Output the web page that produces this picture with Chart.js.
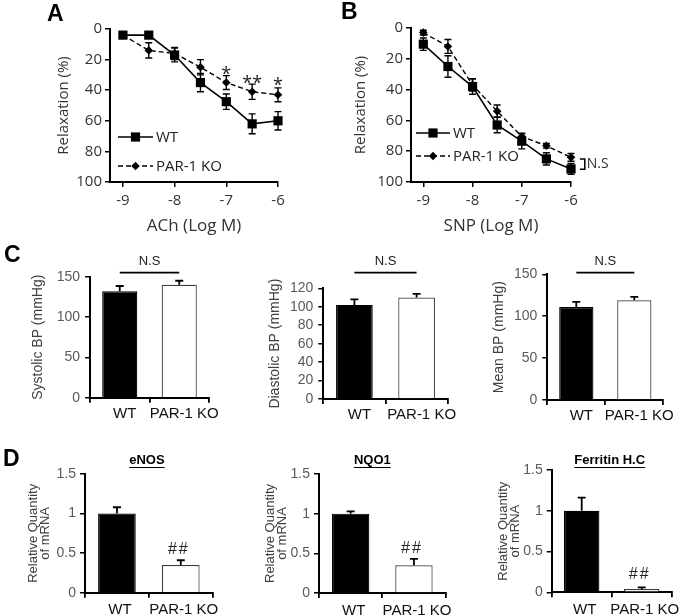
<!DOCTYPE html>
<html>
<head>
<meta charset="utf-8">
<script src="https://cdn.jsdelivr.net/npm/chart.js@4"></script>
<style>
  html, body { margin: 0; padding: 0; background: #fff; }
  #wrap { position: relative; width: 685px; height: 616px; overflow: hidden; }
  #wrap canvas { position: absolute; left: 0; top: 0; }
  .tag { position: absolute; font: bold 23px Arial, "Liberation Sans", sans-serif; line-height: 23px; color: #000; }
</style>
</head>
<body>
<div id="wrap">
  <canvas id="cA" width="685" height="616"></canvas>
  <canvas id="cB" width="685" height="616"></canvas>
  <canvas id="cSys" width="685" height="616"></canvas>
  <canvas id="cDia" width="685" height="616"></canvas>
  <canvas id="cMean" width="685" height="616"></canvas>
  <canvas id="cEnos" width="685" height="616"></canvas>
  <canvas id="cNqo" width="685" height="616"></canvas>
  <canvas id="cFer" width="685" height="616"></canvas>
  <div class="tag" style="left:47px;top:2px">A</div>
  <div class="tag" style="left:341px;top:0px">B</div>
  <div class="tag" style="left:4px;top:243px">C</div>
  <div class="tag" style="left:3px;top:447px">D</div>
</div>
<script>
// ---- data ----
const doses = [-9, -8.5, -8, -7.5, -7, -6.5, -6];
const doseTicks = [-9, -8, -7, -6];
const relaxTicks = [0, 20, 40, 60, 80, 100];

const achWT = [4, 4, 17, 35, 47.5, 62, 60];
const achWTErr = [1.5, 1.5, 4.5, 6, 5, 6.5, 6];
const achKO = [4, 14, 16, 25, 35, 41, 43];
const achKOErr = [1, 5, 4, 5, 4.5, 5, 4.5];

const snpWT = [10.5, 25, 38, 63, 73.5, 85, 91.5];
const snpWTErr = [4, 7, 5, 5, 5, 4, 3.5];
const snpKO = [3, 12, 37, 54, 70.5, 76.5, 84];
const snpKOErr = [1.5, 4.5, 4, 4, 2, 1.5, 2.5];

const groups = ['WT', 'PAR-1 KO'];
const systolic = [132, 140];
const systolicErr = [6.5, 5];
const diastolic = [102, 110];
const diastolicErr = [6, 4];
const meanBP = [111, 119];
const meanBPErr = [6, 4];
const bp150Ticks = [0, 50, 100, 150];
const bp120Ticks = [0, 20, 40, 60, 80, 100, 120];

const enos = [1.0, 0.35];
const enosErr = [0.08, 0.06];
const nqo1 = [1.0, 0.35];
const nqo1Err = [0.03, 0.08];
const ferritin = [1.0, 0.04];
const ferritinErr = [0.16, 0.02];
const mrnaTicks = [0, 0.5, 1, 1.5];

// ---- helpers ----
const W = 685, H = 616;
const SANS = '"Open Sans", "Noto Sans", sans-serif';
const ARIAL = 'Arial, "Liberation Sans", sans-serif';

// every chart gets a full-page canvas; padding puts its plot area where it sits in the figure
function frame(b) {
  return {
    layout: { padding: { left: b.l - b.yw, right: W - b.r, top: b.t, bottom: H - b.b - b.xh } },
    yFit: s => { s.width = b.yw; },
    xFit: s => { s.height = b.xh; }
  };
}

function valOf(v) { return (v && typeof v === 'object') ? v.y : v; }

const errorBars = {
  id: 'errorBars',
  beforeDatasetsDraw(chart) { if (chart.config.type === 'line') this.paint(chart); },
  afterDatasetsDraw(chart) { if (chart.config.type === 'bar') this.paint(chart); },
  paint(chart) {
    const { ctx } = chart;
    const ys = chart.scales.y;
    chart.data.datasets.forEach((ds, i) => {
      if (!ds.errors) return;
      const meta = chart.getDatasetMeta(i);
      ctx.save();
      ctx.strokeStyle = '#000';
      ctx.lineWidth = ds.errorWidth || 1.5;
      meta.data.forEach((el, j) => {
        const v = valOf(ds.data[j]), e = ds.errors[j];
        const x = el.x, cap = ds.errorCap || 3.5;
        const top = ys.getPixelForValue(v + e);
        const bot = ds.errorUpOnly ? ys.getPixelForValue(v) : ys.getPixelForValue(v - e);
        ctx.beginPath();
        ctx.moveTo(x, bot); ctx.lineTo(x, top);
        ctx.moveTo(x - cap, top); ctx.lineTo(x + cap, top);
        if (!ds.errorUpOnly) { ctx.moveTo(x - cap, bot); ctx.lineTo(x + cap, bot); }
        ctx.stroke();
      });
      ctx.restore();
    });
  }
};

const notes = {
  id: 'notes',
  afterDraw(chart, args, opts) {
    const items = opts.items || [];
    const { ctx, chartArea } = chart;
    const xs = chart.scales.x, ys = chart.scales.y;
    const px = v => xs.getPixelForValue(v);
    const py = v => v === 'top' ? chartArea.top : ys.getPixelForValue(v);
    ctx.save();
    items.forEach(n => {
      if (n.path) {
        ctx.beginPath();
        n.path.forEach((p, k) => {
          const X = px(p[0]), Y = py(p[1]);
          if (k === 0) ctx.moveTo(X, Y); else ctx.lineTo(X, Y);
        });
        ctx.strokeStyle = n.color || '#000';
        ctx.lineWidth = n.width || 1.5;
        ctx.stroke();
        return;
      }
      const X = px(n.x) + (n.dx || 0), Y = py(n.y) + (n.dy || 0);
      ctx.font = n.font;
      ctx.fillStyle = n.color || '#000';
      ctx.textAlign = n.align || 'center';
      ctx.textBaseline = n.baseline || 'middle';
      if (n.spacing) ctx.letterSpacing = n.spacing;
      ctx.fillText(n.text, X, Y);
      ctx.letterSpacing = '0px';
      if (n.underline) {
        const w = ctx.measureText(n.text).width;
        ctx.beginPath();
        ctx.moveTo(X - w / 2, Y + 7.5); ctx.lineTo(X + w / 2, Y + 7.5);
        ctx.strokeStyle = n.color || '#000';
        ctx.lineWidth = 1.2;
        ctx.stroke();
      }
    });
    ctx.restore();
  }
};

// legend drawn inside the plot, as in the figure
const inLegend = {
  id: 'inLegend',
  afterDatasetsDraw(chart, args, opts) {
    if (!opts.rows) return;
    const { ctx, chartArea } = chart;
    chart.data.datasets.forEach((ds, i) => {
      const y = chartArea.top + opts.rows[i];
      const x0 = chartArea.left + opts.left, x1 = x0 + opts.len, xm = (x0 + x1) / 2;
      ctx.save();
      ctx.strokeStyle = ds.borderColor;
      ctx.lineWidth = ds.borderWidth;
      ctx.setLineDash(ds.borderDash || []);
      ctx.beginPath(); ctx.moveTo(x0, y); ctx.lineTo(x1, y); ctx.stroke();
      ctx.setLineDash([]);
      ctx.fillStyle = ds.pointBackgroundColor;
      const r = ds.pointRadius;
      ctx.beginPath();
      if (ds.pointStyle === 'rect') {
        const s = r * Math.SQRT1_2;
        ctx.rect(xm - s, y - s, 2 * s, 2 * s);
      } else {
        ctx.moveTo(xm - r, y); ctx.lineTo(xm, y - r); ctx.lineTo(xm + r, y); ctx.lineTo(xm, y + r); ctx.closePath();
      }
      ctx.fill();
      ctx.font = '15px ' + SANS;
      ctx.fillStyle = '#222';
      ctx.textAlign = 'left';
      ctx.textBaseline = 'middle';
      ctx.fillText(ds.label, x1 + 3, y + 1);
      ctx.restore();
    });
  }
};

Chart.register(errorBars, notes, inLegend);

function fixedTicks(arr) {
  return s => { s.ticks = arr.map(v => ({ value: v })); };
}

function relaxChart(id, b, wt, wtErr, ko, koErr, xTitle, legend, items) {
  const f = frame(b);
  return new Chart(document.getElementById(id), {
    type: 'line',
    data: {
      datasets: [
        {
          label: 'WT', data: doses.map((d, i) => ({ x: d, y: wt[i] })), errors: wtErr,
          borderColor: '#000', backgroundColor: '#000', borderWidth: 1.6,
          pointStyle: 'rect', pointRadius: 6.5, pointBackgroundColor: '#000',
          pointBorderColor: '#000', pointBorderWidth: 0, clip: false, errorCap: 3.5, errorWidth: 1.4
        },
        {
          label: 'PAR-1 KO', data: doses.map((d, i) => ({ x: d, y: ko[i] })), errors: koErr,
          borderColor: '#000', backgroundColor: '#000', borderWidth: 1.4, borderDash: [5, 3],
          pointStyle: 'rectRot', pointRadius: 4.3, pointBackgroundColor: '#000',
          pointBorderColor: '#000', pointBorderWidth: 0, clip: false, errorCap: 3.5, errorWidth: 1.4
        }
      ]
    },
    options: {
      responsive: false,
      animation: false,
      layout: f.layout,
      plugins: {
        legend: { display: false },
        tooltip: { enabled: false },
        inLegend: legend,
        notes: { items: items }
      },
      scales: {
        x: {
          type: 'linear', min: -9.25, max: -6,
          afterFit: f.xFit,
          afterBuildTicks: fixedTicks(doseTicks),
          border: { color: '#000', width: 2 },
          grid: { display: true, drawOnChartArea: false, drawTicks: true, tickLength: 5, color: '#000', lineWidth: 1.5 },
          ticks: { font: { family: SANS, size: 15 }, color: '#333', padding: 5, autoSkip: false, maxRotation: 0, callback: v => String(v) },
          title: { display: true, text: xTitle, font: { family: SANS, size: 17 }, color: '#333', padding: 0 }
        },
        y: {
          min: 0, max: 100, reverse: true,
          afterFit: f.yFit,
          afterBuildTicks: fixedTicks(relaxTicks),
          border: { color: '#000', width: 2 },
          grid: { display: true, drawOnChartArea: false, drawTicks: true, tickLength: 5, color: '#000', lineWidth: 1.5 },
          ticks: { font: { family: SANS, size: 15 }, color: '#333', padding: 3, autoSkip: false },
          title: { display: true, text: 'Relaxation (%)', font: { family: SANS, size: 15 }, color: '#333', padding: 0 }
        }
      }
    }
  });
}

function barChart(id, b, vals, errs, yTicks, yTitle, o, items) {
  const f = frame(b);
  return new Chart(document.getElementById(id), {
    type: 'bar',
    data: {
      labels: groups,
      datasets: [{
        data: vals, errors: errs, errorUpOnly: true, errorCap: 4, errorWidth: 1.8,
        backgroundColor: ['#000', '#fff'],
        borderColor: ['#000', '#3a3a3a'],
        borderWidth: 1.2,
        barPercentage: 0.59,
        categoryPercentage: 1
      }]
    },
    options: {
      responsive: false,
      animation: false,
      layout: f.layout,
      plugins: {
        legend: { display: false },
        tooltip: { enabled: false },
        inLegend: {},
        notes: { items: items }
      },
      scales: {
        x: {
          afterFit: f.xFit,
          border: { color: '#000', width: 2 },
          grid: { display: true, offset: true, drawOnChartArea: false, drawTicks: true, tickLength: 5, color: '#000', lineWidth: 1.8 },
          ticks: { font: { family: ARIAL, size: 15 }, color: '#111', padding: o.xPad, labelOffset: o.labelOffset,
                   autoSkip: false, maxRotation: 0, minRotation: 0 }
        },
        y: {
          min: 0, max: yTicks[yTicks.length - 1],
          afterFit: f.yFit,
          afterBuildTicks: fixedTicks(yTicks),
          border: { color: '#000', width: 2 },
          grid: { display: true, drawOnChartArea: false, drawTicks: true, tickLength: 5, color: '#000', lineWidth: 1.5 },
          ticks: { font: { family: ARIAL, size: 14 }, color: '#595959', padding: o.yPad, autoSkip: false,
                   callback: v => String(v) },
          title: { display: true, text: yTitle, font: { family: ARIAL, size: o.titleSize, lineHeight: o.titleLH }, color: '#404040', padding: 0 }
        }
      }
    }
  });
}

// ---- panel A / B ----
const star = '18px ' + SANS;
relaxChart('cA', { l: 110, r: 278, t: 29, b: 182, yw: 55, xh: 54 },
  achWT, achWTErr, achKO, achKOErr, 'ACh (Log M)',
  { left: 8, len: 35, rows: [108, 137] },
  [
    { text: '*', x: -7, y: 33.2, font: star, baseline: 'alphabetic', color: '#222' },
    { text: '**', x: -6.5, y: 39, font: star, baseline: 'alphabetic', color: '#222' },
    { text: '*', x: -6, y: 40.2, font: star, baseline: 'alphabetic', color: '#222' }
  ]);

relaxChart('cB', { l: 411, r: 571, t: 28, b: 182, yw: 59, xh: 54 },
  snpWT, snpWTErr, snpKO, snpKOErr, 'SNP (Log M)',
  { left: 5, len: 34, rows: [105, 128] },
  [
    { path: [[-5.82, 85], [-5.72, 85], [-5.72, 91.8], [-5.82, 91.8]], width: 1.5 },
    { text: 'N.S', x: -5.68, y: 88.4, font: '14px ' + SANS, align: 'left', color: '#333' }
  ]);

// ---- panel C ----
const cOpt = { xPad: 2, labelOffset: 5, yPad: 5, titleSize: 14, titleLH: 1.2 };
const ns = '13px ' + ARIAL;
barChart('cSys', { l: 90, r: 209, t: 276.7, b: 397.7, yw: 60.4, xh: 30 },
  systolic, systolicErr, bp150Ticks, 'Systolic BP (mmHg)', cOpt,
  [{ path: [[0, 155], [1, 155]], width: 1.6 }, { text: 'N.S', x: 0.5, y: 155, dy: -11, font: ns, color: '#222' }]);
barChart('cDia', { l: 323.3, r: 447.7, t: 288.3, b: 399, yw: 56.7, xh: 30 },
  diastolic, diastolicErr, bp120Ticks, 'Diastolic BP (mmHg)', cOpt,
  [{ path: [[0, 137], [1, 137]], width: 1.6 }, { text: 'N.S', x: 0.5, y: 137, dy: -11, font: ns, color: '#222' }]);
barChart('cMean', { l: 547.3, r: 663.3, t: 274.3, b: 400, yw: 56.7, xh: 30 },
  meanBP, meanBPErr, bp150Ticks, 'Mean BP (mmHg)', cOpt,
  [{ path: [[0, 152], [1, 152]], width: 1.6 }, { text: 'N.S', x: 0.5, y: 152, dy: -11, font: ns, color: '#222' }]);

// ---- panel D ----
const dOpt = { xPad: 3.5, labelOffset: 3, yPad: 4, titleSize: 13, titleLH: 0.92 };
const mrnaTitle = ['Relative Quantity', 'of mRNA'];
const bold = 'bold 13px ' + ARIAL;
const hash = '16px ' + ARIAL;
barChart('cEnos', { l: 85, r: 212.7, t: 474, b: 592.7, yw: 58, xh: 23 },
  enos, enosErr, mrnaTicks, mrnaTitle, dOpt,
  [{ text: 'eNOS', x: 0.5, y: 'top', dx: -2, dy: -14, font: bold, underline: true },
   { text: '##', x: 1, y: 0.54, dx: -2, font: hash, color: '#222', spacing: '2px' }]);
barChart('cNqo', { l: 319, r: 445.6, t: 474, b: 593, yw: 55, xh: 23 },
  nqo1, nqo1Err, mrnaTicks, mrnaTitle, dOpt,
  [{ text: 'NQO1', x: 0.5, y: 'top', dx: -10, dy: -14, font: bold, underline: true },
   { text: '##', x: 1, y: 0.56, dx: -2, font: hash, color: '#222', spacing: '2px' }]);
barChart('cFer', { l: 551.7, r: 671.7, t: 470, b: 592.3, yw: 54.2, xh: 23 },
  ferritin, ferritinErr, mrnaTicks, mrnaTitle, dOpt,
  [{ text: 'Ferritin H.C', x: 0.5, y: 'top', dx: -2, dy: -10, font: bold, underline: true },
   { text: '##', x: 1, y: 0.22, dx: -2, font: hash, color: '#222', spacing: '2px' }]);
</script>
</body>
</html>
